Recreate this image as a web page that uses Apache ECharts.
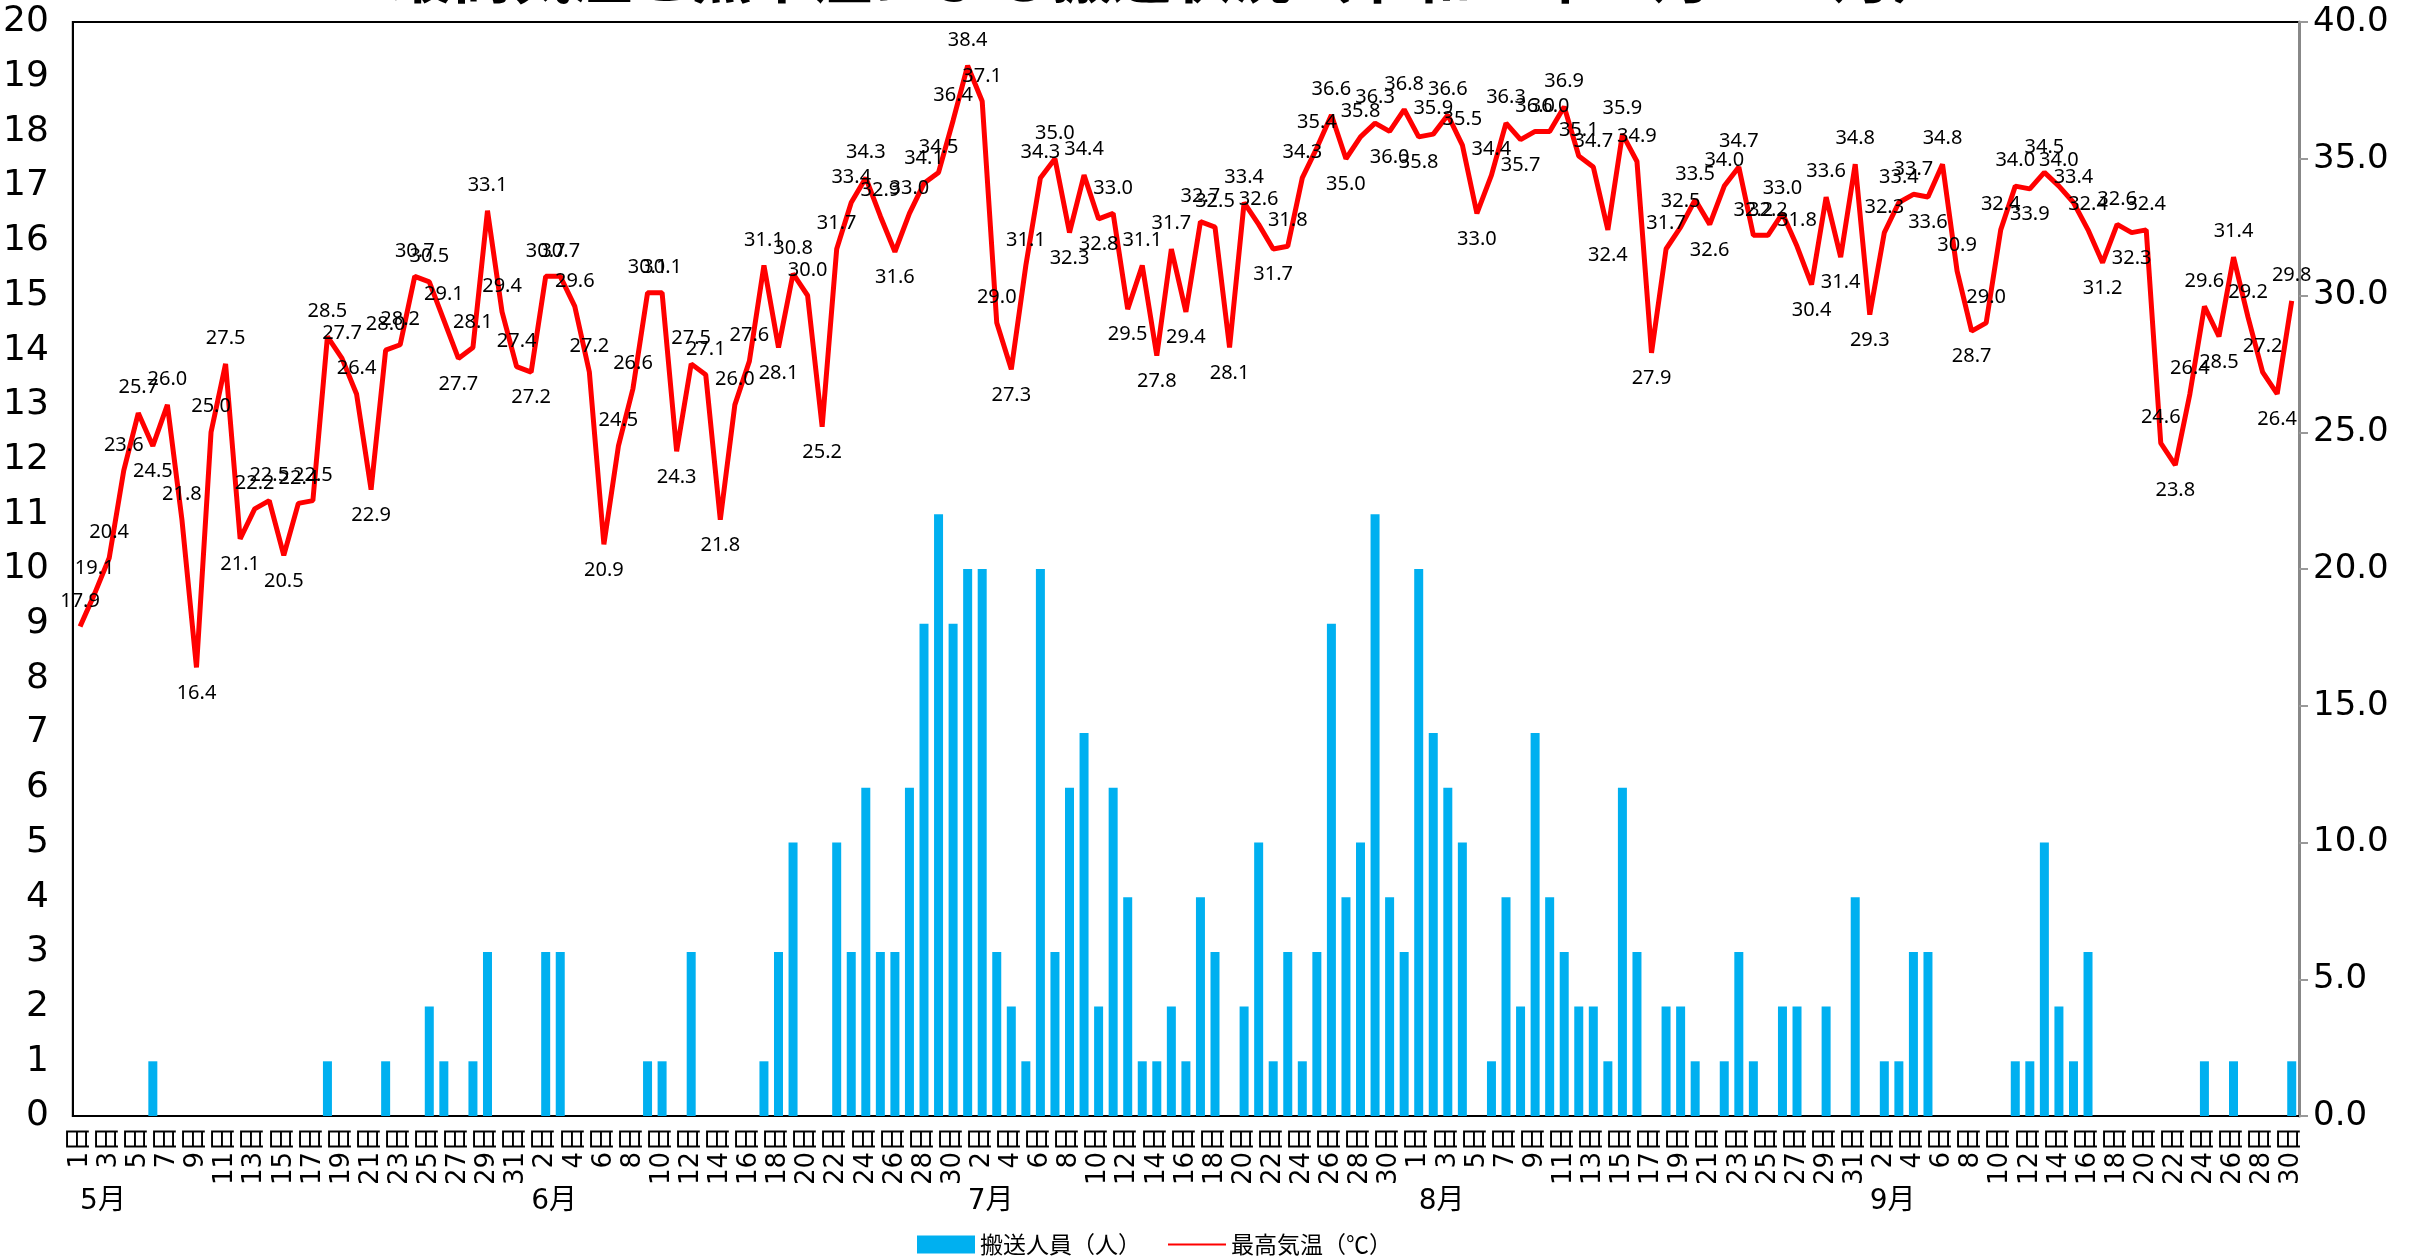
<!DOCTYPE html>
<html>
<head>
<meta charset="utf-8">
<script src="https://cdn.jsdelivr.net/npm/echarts@6/dist/echarts.min.js"></script>
<style>html,body{margin:0;padding:0;background:#fff;}#c{width:2428px;height:1256px;}</style>
</head>
<body>
<div id="c"></div>
<script>
const titleText = '最高気温と熱中症による搬送状況（令和４年５月～９月）';
const months = ['5月', '6月', '7月', '8月', '9月'];
const monthDays = [31, 30, 31, 31, 30];

const tempMay = [17.9,19.1,20.4,23.6,25.7,24.5,26.0,21.8,16.4,25.0,27.5,21.1,22.2,22.5,20.5,22.4,22.5,28.5,27.7,26.4,22.9,28.0,28.2,30.7,30.5,29.1,27.7,28.1,33.1,29.4,27.4];
const tempJun = [27.2,30.7,30.7,29.6,27.2,20.9,24.5,26.6,30.1,30.1,24.3,27.5,27.1,21.8,26.0,27.6,31.1,28.1,30.8,30.0,25.2,31.7,33.4,34.3,32.9,31.6,33.0,34.1,34.5,36.4];
const tempJul = [38.4,37.1,29.0,27.3,31.1,34.3,35.0,32.3,34.4,32.8,33.0,29.5,31.1,27.8,31.7,29.4,32.7,32.5,28.1,33.4,32.6,31.7,31.8,34.3,35.4,36.6,35.0,35.8,36.3,36.0,36.8];
const tempAug = [35.8,35.9,36.6,35.5,33.0,34.4,36.3,35.7,36.0,36.0,36.9,35.1,34.7,32.4,35.9,34.9,27.9,31.7,32.5,33.5,32.6,34.0,34.7,32.2,32.2,33.0,31.8,30.4,33.6,31.4,34.8];
const tempSep = [29.3,32.3,33.4,33.7,33.6,34.8,30.9,28.7,29.0,32.4,34.0,33.9,34.5,34.0,33.4,32.4,31.2,32.6,32.3,32.4,24.6,23.8,26.4,29.6,28.5,31.4,29.2,27.2,26.4,29.8];

const cntMay = [0,0,0,0,0,1,0,0,0,0,0,0,0,0,0,0,0,1,0,0,0,1,0,0,2,1,0,1,3,0,0];
const cntJun = [0,3,3,0,0,0,0,0,1,1,0,3,0,0,0,0,1,3,5,0,0,5,3,6,3,3,6,9,11,9];
const cntJul = [10,10,3,2,1,10,3,6,7,2,6,4,1,1,2,1,4,3,0,2,5,1,3,1,3,9,4,5,11,4,3];
const cntAug = [10,7,6,5,0,1,4,2,7,4,3,2,2,1,6,3,0,2,2,1,0,1,3,1,0,2,2,0,2,0,4];
const cntSep = [0,1,1,3,3,0,0,0,0,0,1,1,5,2,1,3,0,0,0,0,0,0,0,1,0,1,0,0,0,1];

const leftTicks = {min: 0, max: 20, interval: 1};
const rightTicks = {min: 0, max: 40, interval: 5};

const temps = [].concat(tempMay, tempJun, tempJul, tempAug, tempSep);
const counts = [].concat(cntMay, cntJun, cntJul, cntAug, cntSep);
const days = [];
const monthLabel = [];
monthDays.forEach((n, mi) => {
  for (let d = 1; d <= n; d++) {
    days.push(d + '日');
    monthLabel.push(d === 1 ? months[mi] : '');
  }
});

const axFam = '"DejaVu Sans", "Noto Sans CJK JP", sans-serif';
const lineData = temps.map((v, i) => {
  const p = i > 0 ? temps[i - 1] : v - 1;
  const n = i < temps.length - 1 ? temps[i + 1] : v - 1;
  const low = v < p && v < n;
  return {value: v, label: {position: low ? 'bottom' : 'top'}};
});

const chart = echarts.init(document.getElementById('c'));
chart.setOption({
  backgroundColor: '#fff',
  animation: false,
  title: {
    text: titleText, left: 387, top: -60,
    textStyle: {fontSize: 60, fontWeight: 'bold', color: '#000', fontFamily: '"Noto Sans CJK JP", sans-serif'}
  },
  legend: {
    top: 1228, left: 912, itemGap: 26, itemWidth: 58, itemHeight: 18,
    textStyle: {fontSize: 23, color: '#000', fontFamily: '"Noto Sans CJK JP", sans-serif'},
    data: [{name: '搬送人員（人）', icon: 'rect'}, {name: '最高気温（℃）'}]
  },
  grid: {left: 70, right: 129, top: 22, bottom: 140, show: true, borderColor: '#000', borderWidth: 2, backgroundColor: 'transparent'},
  xAxis: [{
    type: 'category', data: days, position: 'bottom',
    axisLine: {lineStyle: {color: '#000', width: 2}},
    axisTick: {show: false},
    axisLabel: {interval: 1, rotate: 90, margin: 10, fontSize: 26, color: '#000', fontFamily: axFam}
  }, {
    type: 'category', data: monthLabel, position: 'bottom', gridIndex: 0,
    axisLine: {show: false}, axisTick: {show: false},
    axisLabel: {interval: 0, margin: 72, fontSize: 28, color: '#000', align: 'left', fontFamily: axFam}
  }],
  yAxis: [{
    type: 'value', min: leftTicks.min, max: leftTicks.max, interval: leftTicks.interval, position: 'left',
    axisLine: {show: true, lineStyle: {color: '#000', width: 2}}, axisTick: {show: false},
    splitLine: {show: false},
    axisLabel: {margin: 24, fontSize: 36, color: '#000', fontFamily: axFam}
  }, {
    type: 'value', min: rightTicks.min, max: rightTicks.max, interval: rightTicks.interval, position: 'right',
    axisLine: {show: true, lineStyle: {color: '#888', width: 3}},
    axisTick: {show: true, inside: false, length: 9, lineStyle: {color: '#999', width: 2}},
    splitLine: {show: false},
    axisLabel: {margin: 14, fontSize: 34, color: '#000', fontFamily: axFam, formatter: v => v.toFixed(1)}
  }],
  series: [{
    name: '搬送人員（人）', type: 'bar', xAxisIndex: 0, yAxisIndex: 0, data: counts,
    barWidth: 9, itemStyle: {color: '#00B0F0'}
  }, {
    name: '最高気温（℃）', type: 'line', xAxisIndex: 0, yAxisIndex: 1, data: lineData,
    symbol: 'circle', symbolSize: 1, showSymbol: true,
    lineStyle: {color: '#FF0000', width: 5}, itemStyle: {color: 'rgba(255,0,0,0)'},
    label: {show: true, distance: 15, fontSize: 20, color: '#000', fontFamily: '"Noto Sans", sans-serif', formatter: p => p.value.toFixed(1)},
    labelLayout: {hideOverlap: false}
  }]
});
</script>
</body>
</html>
